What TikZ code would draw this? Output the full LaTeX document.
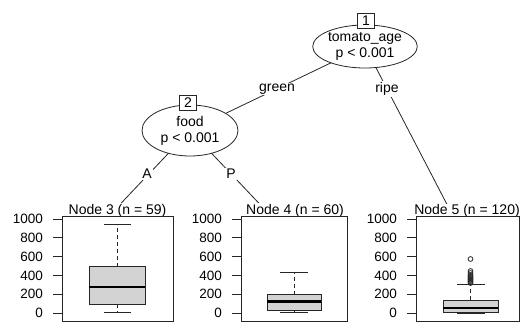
\documentclass[tikz,border=0pt]{standalone}
\usepackage{fontspec}
\setmainfont{Liberation Sans}
\usetikzlibrary{shapes.geometric}
\pgfdeclarelayer{background}
\pgfsetlayers{background,main}
\definecolor{boxgray}{HTML}{D3D3D3}
\definecolor{ink}{HTML}{262626}
\newcommand\fsn{\fontsize{14}{16}\selectfont}
\newcommand\fsa{\fontsize{13.5}{15}\selectfont}
\begin{document}
\begin{tikzpicture}[x=1pt,y=-1pt,
  inner/.style={ellipse, draw=ink, fill=white, line width=0.8pt, inner sep=0pt, align=center, font=\fsn},
  idbox/.style={draw=ink, fill=white, line width=0.8pt, minimum width=17pt, minimum height=15pt, inner sep=0pt, font=\fsn},
  elab/.style={fill=white, inner sep=1pt, font=\fsn},
  edge/.style={line width=0.8pt, draw=ink},
  panel/.style={draw=ink, line width=0.8pt},
  ttl/.style={fill=white, inner sep=1pt, anchor=base, font=\fsn},
  tk/.style={draw=ink, line width=0.8pt},
  ticklab/.style={anchor=east, inner sep=0pt, font=\fsa},
  bx/.style={draw=ink, fill=boxgray, line width=0.8pt},
  med/.style={draw=black, line width=2.2pt},
  whisk/.style={draw=ink, line width=0.8pt, dash pattern=on 4pt off 3pt},
  capl/.style={draw=ink, line width=0.8pt},
  outl/.style={draw=ink, line width=0.8pt}]
\useasboundingbox (0,0) rectangle (520,322);
\clip (0,0) rectangle (520,322);

% inner nodes
\node[inner, minimum width=92pt, minimum height=43pt] (n1) at (365,46.5) {tomato\_age\\p < 0.001};
\node[idbox] (id1) at (366,21) {1};
\node[inner, minimum width=96pt, minimum height=51pt] (n2) at (190,130.5) {food\\p < 0.001};
\node[idbox] (id2) at (188,103) {2};

% terminal panel anchors
\coordinate (e3) at (109,216);
\coordinate (e4) at (271,216);
\coordinate (e5) at (453,216);

% titles
\node[ttl] (t3) at (117.5,214) {Node 3 (n = 59)};
\node[ttl] (t4) at (295,214) {Node 4 (n = 60)};
\node[ttl, inner sep=0pt] (t5) at (467,214) {Node 5 (n = 120)};

% edges
\begin{pgfonlayer}{background}
\draw[edge] (n1.center) -- (n2.center);
\draw[edge] (n1.center) -- (e5);
\draw[edge] (n2.center) -- (e3);
\draw[edge] (n2.center) -- (e4);
\end{pgfonlayer}

% edge labels
\node[elab] (lg) at (277,89) {green};
\node[elab] (lr) at (387,89) {ripe};
\node[elab] (la) at (147,174) {A};
\node[elab] (lp) at (231,174) {P};

% panels and axes
\foreach \L/\R in {62/173, 241/347, 416/519.5}{
  \draw[panel] (\L,216) rectangle (\R,321.5);
  \foreach \v in {0,200,400,600,800,1000}{
    \draw[tk] (\L,{313-0.094*\v}) -- ++(-9.5,0);
    \node[ticklab] at (\L-19,{313-0.094*\v}) {\v};
  }
}

% boxplot node 3
\draw[whisk] (117,266.6) -- (117,224.6);
\draw[whisk] (117,304.1) -- (117,312.4);
\draw[capl] (104,224.6) -- (131,224.6);
\draw[capl] (104,312.4) -- (131,312.4);
\draw[bx] (89,266.6) rectangle (145,304.1);
\draw[med] (89,286.8) -- (145,286.8);

% boxplot node 4
\draw[whisk] (294,294.8) -- (294,272.1);
\draw[whisk] (294,310.7) -- (294,312.5);
\draw[capl] (280,272.1) -- (308,272.1);
\draw[capl] (280,312.5) -- (308,312.5);
\draw[bx] (267,294.8) rectangle (321,310.7);
\draw[med] (267,301.4) -- (321,301.4);

% boxplot node 5
\draw[whisk] (470.5,300.1) -- (470.5,284.2);
\draw[capl] (457,284.2) -- (485,284.2);
\draw[capl] (457,313) -- (485,313);
\draw[bx] (443,300.1) rectangle (498,312.5);
\draw[med] (443,308.3) -- (498,308.3);
\foreach \y in {259,271,273,275,276,277,278,279,280,281,282,283}{
  \draw[outl] (470.5,\y) circle (2.4);
}
\end{tikzpicture}
\end{document}
